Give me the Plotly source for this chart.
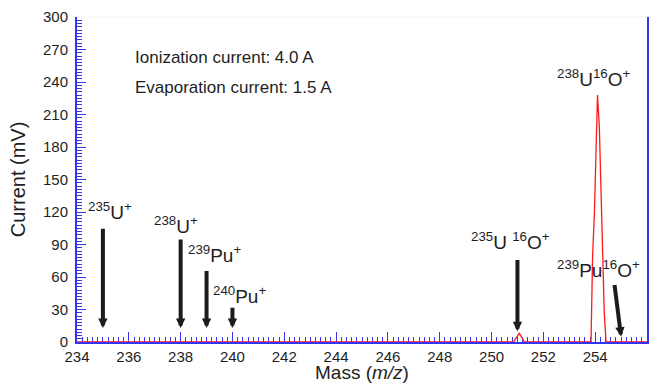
import plotly.graph_objects as go

# ---- data ----
mass = [234.0, 250.85, 251.07, 251.27, 253.84, 253.86, 253.90, 253.97, 254.01, 254.04,
        254.09, 254.16, 254.20, 254.25, 254.29, 254.35, 254.42, 256.0]
current = [0, 0, 8, 0, 0, 27, 79, 119, 162, 199, 228, 199, 162, 119, 79, 27, 0, 0]

# arrows: (tail mass, tail mV, tip mass, tip mV)
arrow_tail_mass = [235.0, 238.0, 239.0, 240.0, 251.0, 254.74]
arrow_tail_mv = [106, 96, 67, 33, 77, 54]
arrow_tip_mass = [235.0, 238.0, 239.0, 240.0, 251.0, 255.0]
arrow_tip_mv = [13, 13, 13, 13, 10, 5]

# peak labels
label_text = ["<sup>235</sup>U<sup>+</sup>", "<sup>238</sup>U<sup>+</sup>",
              "<sup>239</sup>Pu<sup>+</sup>", "<sup>240</sup>Pu<sup>+</sup>",
              "<sup>238</sup>U<sup>16</sup>O<sup>+</sup>",
              "<sup>235</sup>U <sup>16</sup>O<sup>+</sup>",
              "<sup>239</sup>Pu<sup>16</sup>O<sup>+</sup>"]
label_mass = [235.28, 237.81, 239.3, 240.26, 253.97, 250.74, 254.13]
label_mv = [121, 108, 81, 43, 244, 93, 67]

FONT = "Liberation Sans, Arial, Helvetica, sans-serif"
BLUE = "#3434f4"
INK = "#1e1e1e"

fig = go.Figure()
fig.add_trace(go.Scatter(x=mass, y=current, mode="lines",
                         line=dict(color="#ff1a1a", width=1.3), showlegend=False,
                         hoverinfo="skip"))

annotations = []
for tx, ty, hx, hy in zip(arrow_tail_mass, arrow_tail_mv, arrow_tip_mass, arrow_tip_mv):
    annotations.append(dict(x=hx, y=hy, ax=tx, ay=ty, xref="x", yref="y",
                            axref="x", ayref="y", showarrow=True, text="",
                            arrowhead=2, arrowsize=0.47, arrowwidth=4,
                            arrowcolor="#1c1c1c"))
for t, lx, ly in zip(label_text, label_mass, label_mv):
    annotations.append(dict(x=lx, y=ly, xref="x", yref="y", text=t, showarrow=False,
                            xanchor="center", yanchor="middle",
                            font=dict(family=FONT, size=19, color=INK)))
annotations.append(dict(x=236.18, y=263, xref="x", yref="y", xanchor="left", yanchor="middle",
                        text="Ionization current: 4.0 A", showarrow=False,
                        font=dict(family=FONT, size=17, color=INK)))
annotations.append(dict(x=236.18, y=235, xref="x", yref="y", xanchor="left", yanchor="middle",
                        text="Evaporation current: 1.5 A", showarrow=False,
                        font=dict(family=FONT, size=17, color=INK)))
# axis titles as annotations (placed relative to the plot area)
annotations.append(dict(x=0.5, y=-0.093, xref="paper", yref="paper", xanchor="center",
                        yanchor="middle", text="Mass (<i>m/z</i>)", showarrow=False,
                        font=dict(family=FONT, size=19, color=INK)))
annotations.append(dict(x=-0.104, y=0.5, xref="paper", yref="paper", xanchor="center",
                        yanchor="middle", text="Current (mV)", textangle=-90, showarrow=False,
                        font=dict(family=FONT, size=20, color=INK)))

fig.update_layout(
    width=653, height=385,
    margin=dict(l=77, r=6, t=17, b=43),
    paper_bgcolor="white", plot_bgcolor="white",
    font=dict(family=FONT, color=INK),
    annotations=annotations,
    shapes=[dict(type="line", xref="paper", yref="paper", x0=0, x1=1, y0=1, y1=1,
                 line=dict(color="#f2f2f2", width=1))],
    xaxis=dict(range=[234, 256], dtick=2, tick0=234, ticks="inside", ticklen=10,
               tickwidth=1.2, tickcolor=BLUE, showline=True, linecolor=BLUE, linewidth=1.5,
               showgrid=False, zeroline=False, layer="below traces", automargin=False,
               minor=dict(dtick=0.2, ticks="inside", ticklen=5, tickcolor=BLUE, tickwidth=1),
               tickfont=dict(size=15, color=INK, family=FONT)),
    yaxis=dict(range=[0, 300], dtick=30, tick0=0, ticks="inside", ticklen=9,
               tickwidth=1.2, tickcolor=BLUE, showline=True, linecolor=BLUE, linewidth=2,
               mirror=True, showgrid=False, zeroline=False, ticklabelstandoff=4,
               automargin=False,
               minor=dict(dtick=3, ticks="inside", ticklen=5, tickcolor=BLUE, tickwidth=1),
               tickfont=dict(size=15, color=INK, family=FONT)),
)

fig.write_html("out.html")
